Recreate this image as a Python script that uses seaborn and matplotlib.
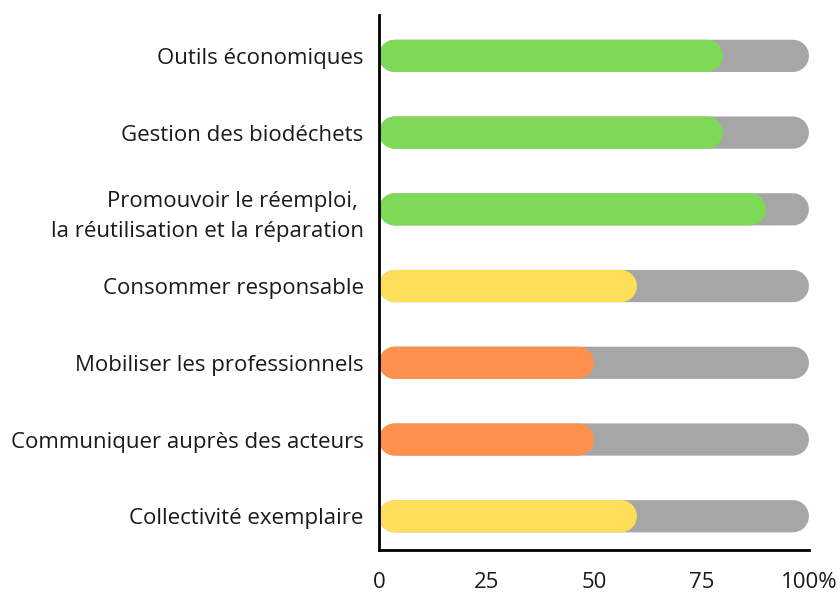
import matplotlib
matplotlib.use('Agg')
import matplotlib.pyplot as plt
import seaborn as sns
import numpy as np
import pandas as pd
from matplotlib.path import Path
from matplotlib.patches import PathPatch

categories = [
    "Outils économiques",
    "Gestion des biodéchets",
    "Promouvoir le réemploi, \nla réutilisation et la réparation",
    "Consommer responsable",
    "Mobiliser les professionnels",
    "Communiquer auprès des acteurs",
    "Collectivité exemplaire",
]
scores = [80, 80, 90, 60, 50, 50, 60]
totals = [100, 100, 100, 100, 100, 100, 100]
colors = ["#7ed957", "#7ed957", "#7ed957", "#ffde59", "#ff914d", "#ff914d", "#ffde59"]
tick_values = [0, 25, 50, 75, 100]
tick_labels = ["0", "25", "50", "75", "100%"]

sns.set_style("white")
plt.rcParams['font.family'] = ['Open Sans', 'DejaVu Sans']

df = pd.DataFrame({"category": categories, "score": scores, "total": totals})

fig = plt.figure(figsize=(8.4, 5.93), dpi=100)
ax = fig.add_axes([0.451, 0.0725, 0.512, 0.9025])

# grey background track, then the coloured score on top
sns.barplot(data=df, y="category", x="total", color="#a6a6a6", saturation=1,
            width=0.42, ax=ax)
sns.barplot(data=df, y="category", x="score", hue="category", palette=colors,
            saturation=1, width=0.42, legend=False, ax=ax)

ax.set_xlim(0, 100)
ax.set_ylim(6.44, -0.535)
ax.set_xticks(tick_values)
ax.set_xticklabels(tick_labels)
ax.set_xlabel("")
ax.set_ylabel("")

sns.despine(ax=ax)
for side in ["left", "bottom"]:
    ax.spines[side].set_color("black")
    ax.spines[side].set_linewidth(2)
ax.tick_params(axis="y", length=0, pad=11, labelsize=16, labelcolor="#1a1a1a")
ax.tick_params(axis="x", length=8, width=1.6, color="black", pad=8,
               labelsize=16, labelcolor="#1a1a1a")
for lbl in ax.get_yticklabels():
    lbl.set_linespacing(1.6)


def pill_path(x, y, w, h, rx):
    # one closed path: right half-circle, then left half-circle
    cy = y + h / 2
    ry = h / 2
    right = Path.arc(-90, 90)
    left = Path.arc(90, 270)
    v_r = right.vertices * [rx, ry] + [x + w - rx, cy]
    v_l = left.vertices * [rx, ry] + [x + rx, cy]
    c_l = left.codes.copy()
    c_l[0] = Path.LINETO
    verts = np.vstack([v_r, v_l, v_r[:1]])
    codes = np.concatenate([right.codes, c_l, [Path.CLOSEPOLY]])
    return Path(verts, codes)


# swap rectangles for pill shapes (round ends in screen space)
fig.canvas.draw()
px_x = ax.bbox.width / (ax.get_xlim()[1] - ax.get_xlim()[0])
px_y = ax.bbox.height / abs(ax.get_ylim()[1] - ax.get_ylim()[0])
for p in list(ax.patches):
    x, y = p.get_x(), p.get_y()
    w, h = p.get_width(), p.get_height()
    fc = p.get_facecolor()
    z = p.get_zorder()
    p.remove()
    rx = (abs(h) / 2) * px_y / px_x
    ax.add_patch(PathPatch(pill_path(x, y, w, h, rx), facecolor=fc,
                           edgecolor="none", zorder=z))

fig.savefig("out.png", dpi=100)
